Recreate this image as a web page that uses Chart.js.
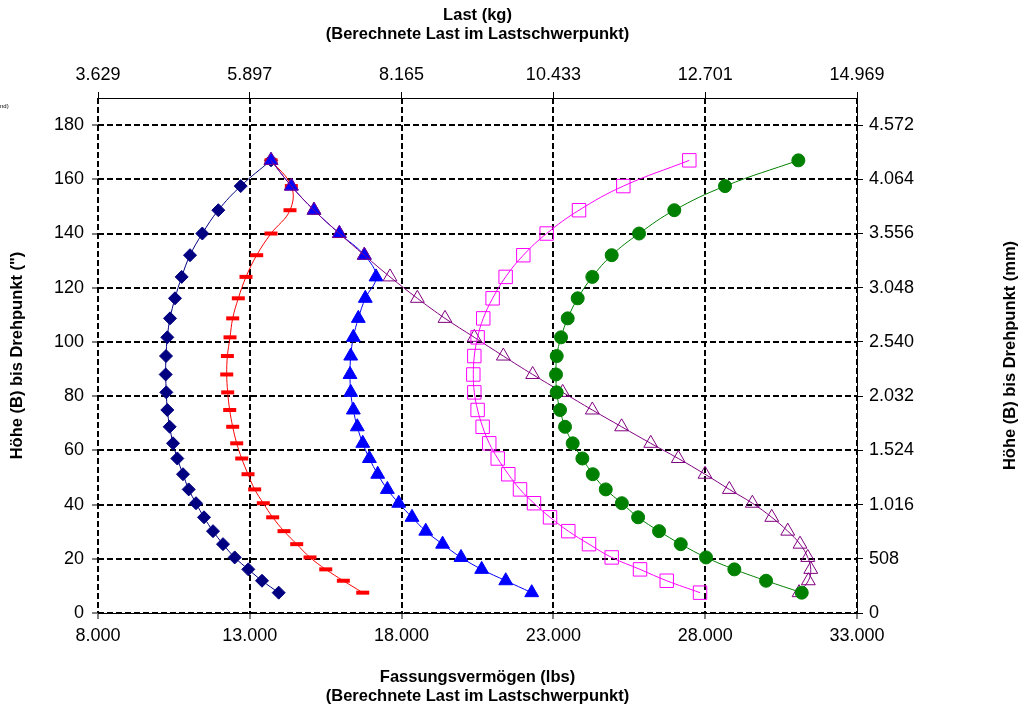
<!DOCTYPE html>
<html>
<head>
<meta charset="utf-8">
<script src="https://cdn.jsdelivr.net/npm/chart.js@4"></script>
<style>
  body { margin: 0; background: #fff; }
  #wrap { width: 1026px; height: 708px; position: relative; }
</style>
</head>
<body>
<div id="wrap"><canvas id="chart"></canvas></div>
<script>
// Höhe (B) bis Drehpunkt in Zoll, von oben nach unten
const hoehe = [167, 157.5, 148.6, 140, 132, 124, 116.1, 108.7, 101.7, 94.8, 88, 81.4, 74.9,
  68.7, 62.6, 57, 51.2, 45.6, 40.5, 35.3, 30.2, 25.4, 20.5, 16.1, 11.9, 7.5];

// Fassungsvermögen (lbs) je Kurve
const kurveNavy = [13699, 12700, 11963, 11436, 11031, 10756, 10536, 10372, 10283, 10240, 10229, 10250, 10283,
  10361, 10471, 10613, 10800, 10988, 11228, 11492, 11788, 12118, 12503, 12951, 13402, 13952];
const kurveRot = [13699, 14368, 14324, 13699, 13227, 12875, 12622, 12437, 12348, 12262, 12240, 12272, 12338,
  12437, 12569, 12734, 12941, 13161, 13445, 13754, 14127, 14545, 14983, 15501, 16081, 16720];
const kurveBlau = [13699, 14368, 15115, 15950, 16772, 17157, 16805, 16574, 16410, 16324, 16301, 16324, 16410,
  16541, 16720, 16939, 17213, 17531, 17906, 18343, 18795, 19350, 19957, 20637, 21430, 22286];
const kurveLila = [13699, 14368, 15115, 15950, 16772, 17618, 18519, 19430, 20395, 21351, 22317, 23305, 24282,
  25247, 26206, 27115, 27995, 28795, 29553, 30192, 30719, 31124, 31378, 31477, 31398, 31092];
const kurveMagenta = [27477, 25303, 23844, 22778, 22009, 21427, 20998, 20689, 20504, 20395, 20362, 20395, 20504,
  20669, 20887, 21166, 21514, 21900, 22361, 22889, 23491, 24173, 24920, 25853, 26733, 27830];
const kurveGruen = [31068, 28653, 26982, 25821, 24920, 24282, 23800, 23471, 23251, 23109, 23086, 23109, 23218,
  23383, 23636, 23954, 24296, 24724, 25255, 25790, 26480, 27194, 28027, 28960, 30005, 31180];

const xTicks = [8000, 13000, 18000, 23000, 28000, 33000];
const yTicks = [0, 20, 40, 60, 80, 100, 120, 140, 160, 180];

const LBS_TO_KG = 0.45359237;
const INCH_TO_MM = 25.4;
const FONT = "'Liberation Sans', Arial, sans-serif";

const fmt = (v) => Math.round(v).toString().replace(/\B(?=(\d{3})+(?!\d))/g, '.');

const toPoints = (xs) => {
  let pts = [];
  xs.forEach((x, i) => {
    pts.push({ x: x, y: hoehe[i] });
  });
  return pts;
};

const serie = (xs, color, style, radius, fill, order, extra) => Object.assign({
  data: toPoints(xs),
  showLine: true,
  tension: 0.4,
  borderColor: color,
  borderWidth: 1,
  pointStyle: style,
  pointRadius: radius,
  pointBackgroundColor: fill,
  pointBorderColor: color,
  pointBorderWidth: 1,
  order: order,
}, extra || {});

const keepTicks = (list) => (scale) => {
  scale.ticks = list.map((v) => ({ value: v }));
};

// rechter Achsentitel (von unten nach oben) und abgeschnittener Rest oben links
const extraText = {
  id: 'extraText',
  afterDraw(chart) {
    const ctx = chart.ctx;
    ctx.save();
    ctx.fillStyle = '#000';
    ctx.font = '6px ' + FONT;
    ctx.textBaseline = 'middle';
    ctx.fillText('nd)', 0, 106);
    ctx.translate(1010, (chart.chartArea.top + chart.chartArea.bottom) / 2);
    ctx.rotate(-Math.PI / 2);
    ctx.font = 'bold 16.5px ' + FONT;
    ctx.textAlign = 'center';
    ctx.fillText('Höhe (B) bis Drehpunkt (mm)', 0, 0);
    ctx.restore();
  }
};

const titleFont = { family: FONT, size: 16.5, weight: 'bold', lineHeight: 1.15 };
const tickFont = { family: FONT, size: 18 };

new Chart(document.getElementById('chart'), {
  type: 'scatter',
  data: {
    datasets: [
      serie(kurveNavy, '#000080', 'rectRot', 6.5, '#000080', 6),
      serie(kurveRot, '#FF0000', 'line', 6.5, '#FF0000', 5, { pointBorderWidth: 4 }),
      serie(kurveBlau, '#0000FF', 'triangle', 8, '#0000FF', 4),
      serie(kurveLila, '#800080', 'triangle', 8, 'rgba(0,0,0,0)', 3),
      serie(kurveMagenta, '#FF00FF', 'rect', 9.5, 'rgba(0,0,0,0)', 2),
      serie(kurveGruen, '#008000', 'circle', 6.5, '#008000', 1),
    ],
  },
  options: {
    responsive: true,
    maintainAspectRatio: false,
    animation: false,
    layout: { padding: 0 },
    plugins: {
      legend: { display: false },
      tooltip: { enabled: false },
    },
    scales: {
      x: {
        type: 'linear',
        position: 'bottom',
        min: 8000,
        max: 33000,
        afterBuildTicks: keepTicks(xTicks),
        afterFit: (scale) => { scale.height = 95; },
        ticks: { font: tickFont, color: '#000', padding: 6, maxRotation: 0, callback: (v) => fmt(v) },
        grid: { color: '#000', lineWidth: 2, tickLength: 6, tickWidth: 1, tickBorderDash: [] },
        border: { color: '#000', width: 1, dash: [6, 3] },
        title: {
          display: true,
          text: ['Fassungsvermögen (lbs)', '(Berechnete Last im Lastschwerpunkt)'],
          font: titleFont, color: '#000', padding: { top: 0, bottom: 2 },
        },
      },
      x2: {
        type: 'linear',
        position: 'top',
        min: 8000,
        max: 33000,
        afterBuildTicks: keepTicks(xTicks),
        afterFit: (scale) => { scale.height = 98; },
        ticks: { font: tickFont, color: '#000', padding: 6, maxRotation: 0, callback: (v) => fmt(v * LBS_TO_KG) },
        grid: { drawOnChartArea: false, color: '#000', tickLength: 6 },
        border: { color: '#000', width: 1 },
        title: {
          display: true,
          text: ['Last (kg)', '(Berechnete Last im Lastschwerpunkt)'],
          font: titleFont, color: '#000', padding: { top: 5.5, bottom: 0 },
        },
      },
      y: {
        type: 'linear',
        position: 'left',
        min: 0,
        max: 190,
        afterBuildTicks: keepTicks(yTicks),
        afterFit: (scale) => { scale.width = 98; },
        ticks: { font: tickFont, color: '#000', padding: 8 },
        grid: { color: '#000', lineWidth: 2, tickLength: 6, tickWidth: 1, tickBorderDash: [] },
        border: { display: false, dash: [6, 3] },
        title: {
          display: true,
          text: 'Höhe (B) bis Drehpunkt (")',
          font: titleFont, color: '#000', padding: { top: 7.5, bottom: 0 },
        },
      },
      y2: {
        type: 'linear',
        position: 'right',
        min: 0,
        max: 190,
        afterBuildTicks: keepTicks(yTicks),
        afterFit: (scale) => { scale.width = 169; },
        ticks: { font: tickFont, color: '#000', padding: 6, callback: (v) => fmt(v * INCH_TO_MM) },
        grid: { drawOnChartArea: false, color: '#000', tickLength: 6 },
        border: { color: '#000', width: 1 },
      },
    },
  },
  plugins: [extraText],
});
</script>
</body>
</html>
